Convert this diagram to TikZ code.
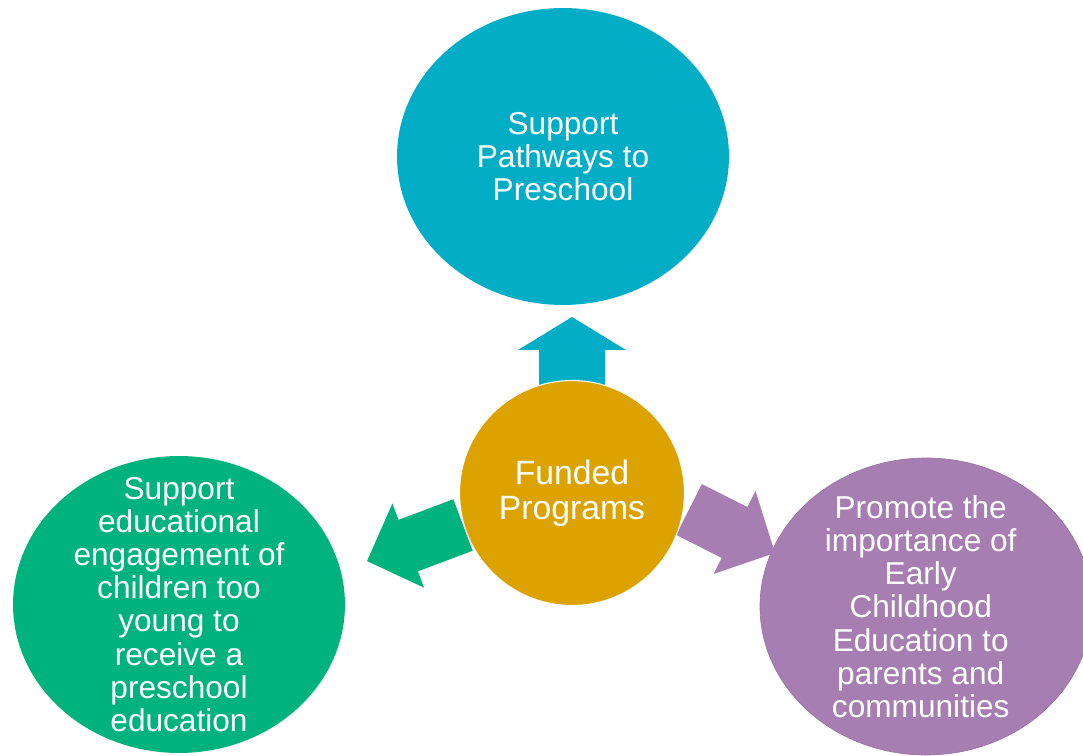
\documentclass[tikz,border=0pt]{standalone}
\usepackage{fontspec}
\setmainfont{Liberation Sans}
\usetikzlibrary{shapes.geometric}

\definecolor{fundgold}{HTML}{DBA200}
\definecolor{pathblue}{HTML}{03ADC6}
\definecolor{engagegreen}{HTML}{00B27B}
\definecolor{promopurple}{HTML}{A77EB1}

\tikzset{
  bubble/.style={ellipse,minimum width=6.64cm,minimum height=5.94cm,inner sep=0pt},
  bubtext/.style={text=white,align=center,font=\fontsize{18}{18.9}\selectfont},
  hub/.style={circle,minimum size=4.5cm,inner sep=0pt,draw=white,line width=0.6pt,
    fill=fundgold,text=white,align=center,font=\fontsize{19.2}{19.8}\selectfont}
}

\begin{document}
\begin{tikzpicture}[x=0.02cm,y=0.02cm]
        \useasboundingbox (0,0) rectangle (1083,755);
        \clip (0,0) rectangle (1083,755);

        % Outer bubbles
        \node[bubble,fill=pathblue] (path) at (563,598.5) {};
        \node[bubtext] (pathtxt) at (path) {Support\\Pathways to\\Preschool};
        \node[bubble,fill=engagegreen] (engage) at (179,150.5) {};
        \node[bubtext] (engagetxt) at (engage) {Support\\educational\\engagement of\\children too\\young to\\receive a\\preschool\\education};
        \node[bubble,fill=promopurple,draw=promopurple!93!black,line width=0.4pt] (promo) at (926,148.5) {};
        \node[bubtext] (promotxt) at ([xshift=-3]promo.center) {Promote the\\importance of\\Early\\Childhood\\Education to\\parents and\\communities};

        % Block arrows
        \begin{scope}[shift={(572,370)},rotate=90]
            \fill[pathblue] (0,-33) -- (35,-33) -- (35,-54) -- (68,0) -- (35,54) -- (35,33) -- (0,33) -- cycle;
        \end{scope}
        \begin{scope}[shift={(463,230)},rotate=200.6]
            \fill[engagegreen] (0,-27.5) -- (58.5,-27.5) -- (58.5,-45) -- (102.5,0) -- (58.5,45) -- (58.5,27.5) -- (0,27.5) -- cycle;
        \end{scope}
        \begin{scope}[shift={(689,245.5)},rotate=-26.8]
            \fill[promopurple] (0,-28.5) -- (51,-28.5) -- (51,-46.5) -- (96.4,0) -- (51,46.5) -- (51,28.5) -- (0,28.5) -- cycle;
        \end{scope}

        % Hub
        \node[hub] (fund) at (572,262) {Funded\\Programs};
\end{tikzpicture}
\end{document}
